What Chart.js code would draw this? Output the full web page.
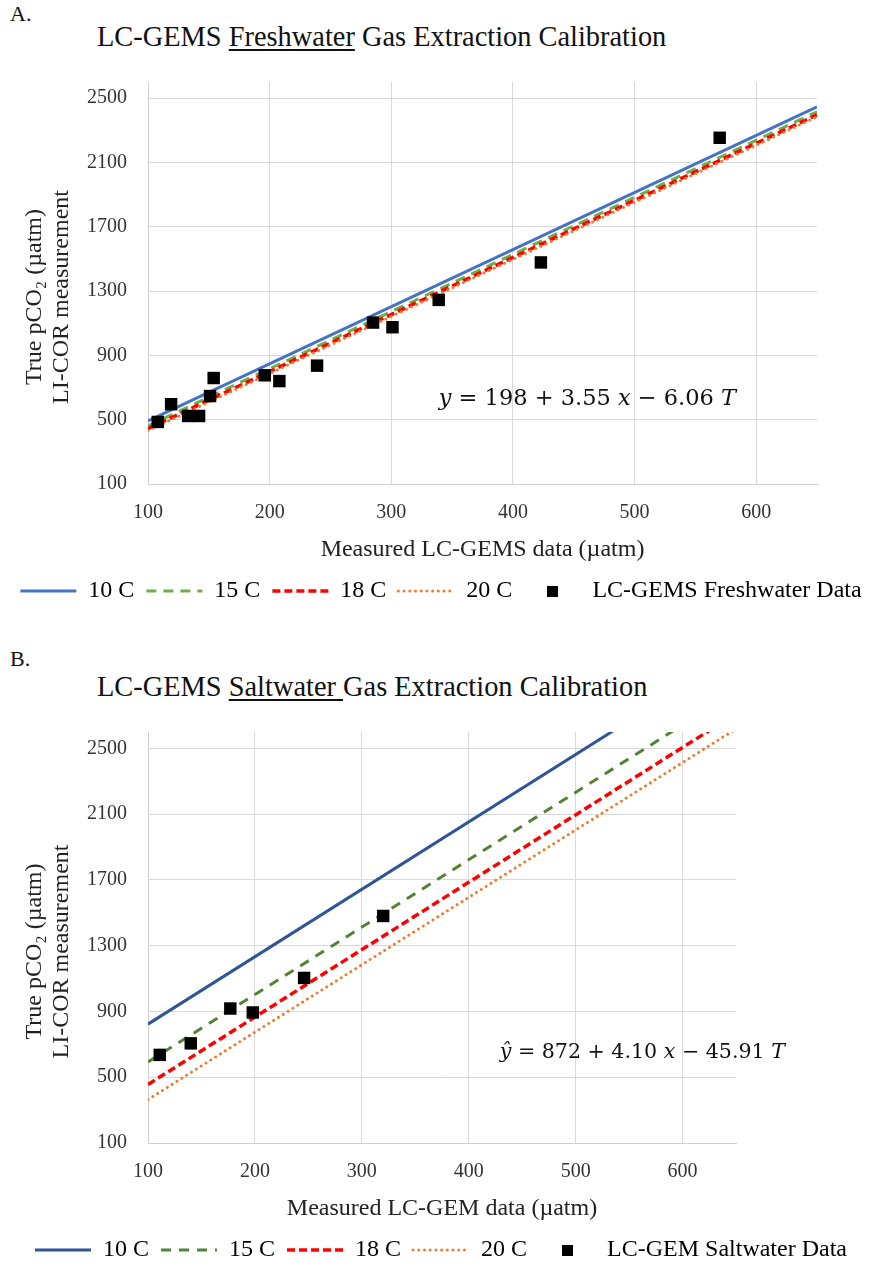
<!DOCTYPE html>
<html>
<head>
<meta charset="utf-8">
<script src="https://cdn.jsdelivr.net/npm/chart.js@4.4.1/dist/chart.umd.min.js"></script>
<style>
  html, body { margin: 0; padding: 0; background: #fff; }
  body { width: 882px; height: 1266px; overflow: hidden; position: relative;
         font-family: "Liberation Serif", "Times New Roman", serif; color: #111; }
  .lbl { position: absolute; line-height: 1; white-space: nowrap; }
  .panel { left: 10px; font-size: 22px; }
  .ttl { left: 97px; font-size: 28.4px; }
  .ttl u { text-decoration-thickness: 1.5px; text-underline-offset: 3px; }
  .box { position: absolute; left: 0; width: 882px; }
</style>
</head>
<body>
<div class="lbl panel" style="top:3px">A.</div>
<div class="lbl ttl" style="top:23px">LC-GEMS <u>Freshwater</u> Gas Extraction Calibration</div>
<div class="box" style="top:49px;height:564px"><canvas id="freshChart"></canvas></div>

<div class="lbl panel" style="top:648px">B.</div>
<div class="lbl ttl" style="top:673px">LC-GEMS <u>Saltwater </u>Gas Extraction Calibration</div>
<div class="box" style="top:699px;height:573px"><canvas id="saltChart"></canvas></div>

<script>
// axis ticks
const xTicks = [100, 200, 300, 400, 500, 600];
const yTicks = [100, 500, 900, 1300, 1700, 2100, 2500];

// fitted lines, value at each end of the x range
const lineX = [100, 650];
const fresh10 = [492, 2445];
const fresh15 = [462, 2415];
const fresh18 = [444, 2396];
const fresh20 = [432, 2384];
const salt10 = [823, 3078];
const salt15 = [593, 2848];
const salt18 = [456, 2711];
const salt20 = [364, 2619];

// measured points
const freshX = [108, 119, 133, 142, 151, 154, 196, 208, 239, 285, 301, 339, 423, 570];
const freshY = [486, 596, 523, 523, 647, 759, 776, 740, 836, 1104, 1075, 1245, 1478, 2253];
const saltX = [111, 140, 177, 198, 246, 320];
const saltY = [636, 706, 918, 894, 1104, 1481];

const serif = '"Liberation Serif", "Times New Roman", serif';
Chart.defaults.font.family = serif;

// small black square for the legend
const square = document.createElement("canvas");
square.width = 11;
square.height = 11;
const sctx = square.getContext("2d");
sctx.fillStyle = "#000";
sctx.fillRect(0, 0, 11, 11);

const yTitle = {
  id: "yTitle",
  afterDraw(chart, args, opts) {
    const { ctx, chartArea } = chart;
    const cy = (chartArea.top + chartArea.bottom) / 2 + opts.shift;
    ctx.save();
    ctx.fillStyle = "#222";
    ctx.font = "24px " + serif;
    ctx.textAlign = "center";
    ctx.textBaseline = "middle";
    opts.lines.forEach((t, i) => {
      ctx.save();
      ctx.translate(opts.x[i], cy);
      ctx.rotate(-Math.PI / 2);
      ctx.fillText(t, 0, 0);
      ctx.restore();
    });
    ctx.restore();
  },
};

const equation = {
  id: "equation",
  afterDatasetsDraw(chart, args, opts) {
    const { ctx, scales } = chart;
    let px = scales.x.getPixelForValue(opts.at[0]);
    const py = scales.y.getPixelForValue(opts.at[1]);
    ctx.save();
    ctx.fillStyle = "#111";
    ctx.textBaseline = "alphabetic";
    opts.parts.forEach(([t, it]) => {
      ctx.font = (it ? "italic " : "") + opts.size + 'px "DejaVu Serif"';
      ctx.fillText(t, px, py);
      px += ctx.measureText(t).width;
    });
    ctx.restore();
  },
};

function lineSet(label, ys, color, width, dash, cap, order) {
  return {
    label: label,
    data: lineX.map((x, i) => ({ x: x, y: ys[i] })),
    showLine: true,
    borderColor: color,
    backgroundColor: color,
    borderWidth: width,
    borderDash: dash,
    borderCapStyle: cap,
    pointRadius: 0,
    pointHoverRadius: 0,
    order: order,
    legendStyle: "line",
  };
}

function pointSet(label, xs, ys) {
  return {
    label: label,
    data: xs.map((x, i) => ({ x: x, y: ys[i] })),
    pointStyle: "rect",
    pointRadius: 8.8,
    pointHoverRadius: 8.8,
    backgroundColor: "#000",
    borderColor: "#000",
    borderWidth: 0,
    order: 1,
    legendStyle: square,
  };
}

function legendLabels(chart) {
  return chart.data.datasets.map((ds, i) => ({
    text: ds.label,
    fillStyle: ds.backgroundColor,
    strokeStyle: ds.borderColor,
    lineWidth: ds.borderWidth,
    lineDash: ds.borderDash || [],
    lineCap: ds.borderCapStyle || "butt",
    pointStyle: ds.legendStyle,
    datasetIndex: i,
    hidden: false,
  }));
}

function makeChart(id, datasets, xTitle, rightPad, eq) {
  new Chart(document.getElementById(id), {
    type: "scatter",
    data: { datasets: datasets },
    plugins: [yTitle, equation],
    options: {
      responsive: true,
      maintainAspectRatio: false,
      animation: false,
      layout: { padding: 0 },
      plugins: {
        legend: {
          position: "bottom",
          labels: {
            usePointStyle: true,
            pointStyleWidth: 56,
            padding: 12,
            color: "#111",
            font: { size: 24 },
            generateLabels: legendLabels,
          },
        },
        tooltip: { enabled: false },
        yTitle: { lines: ["True pCO₂ (µatm)", "LI-COR measurement"], x: [35, 62], shift: 14 },
        equation: eq,
      },
      scales: {
        x: {
          type: "linear",
          min: 100,
          max: 650,
          afterBuildTicks: (s) => { s.ticks = xTicks.map((v) => ({ value: v })); },
          afterFit: (s) => { s.height = 83; },
          grid: { color: "#d9d9d9", drawTicks: false },
          border: { color: "#d0d0d0" },
          ticks: { padding: 17, color: "#333", font: { size: 20 }, callback: (v) => String(v) },
          title: {
            display: true,
            text: xTitle,
            color: "#222",
            font: { size: 24, lineHeight: 1 },
            padding: { top: 0, bottom: 5 },
          },
        },
        y: {
          type: "linear",
          min: 100,
          max: 2600,
          afterBuildTicks: (s) => { s.ticks = yTicks.map((v) => ({ value: v })); },
          afterFit: (s) => { s.width = 148; },
          grid: { color: "#d9d9d9", drawTicks: false },
          border: { color: "#d0d0d0" },
          ticks: { padding: 21, color: "#333", font: { size: 20 }, callback: (v) => String(v) },
        },
        pad: {
          type: "linear",
          position: "right",
          afterFit: (s) => { s.width = rightPad; },
          grid: { display: false },
          border: { display: false },
          ticks: { display: false },
        },
      },
    },
  });
}

makeChart(
  "freshChart",
  [
    lineSet("10 C", fresh10, "#4472C4", 3, [], "butt", 5),
    lineSet("15 C", fresh15, "#70AD47", 3, [10, 7], "butt", 4),
    lineSet("18 C", fresh18, "#FF0000", 3.5, [8, 4], "butt", 3),
    lineSet("20 C", fresh20, "#ED7D31", 3, [0.01, 5.7], "round", 2),
    pointSet("LC-GEMS Freshwater Data", freshX, freshY),
  ],
  "Measured LC-GEMS data (µatm)",
  65,
  {
    at: [339, 590],
    size: 22.5,
    parts: [["y", true], [" = 198 + 3.55 ", false], ["x", true], [" − 6.06 ", false], ["T", true]],
  }
);

makeChart(
  "saltChart",
  [
    lineSet("10 C", salt10, "#2F5597", 3, [], "butt", 5),
    lineSet("15 C", salt15, "#548235", 3, [10, 8], "butt", 4),
    lineSet("18 C", salt18, "#FF0000", 3.5, [8, 4], "butt", 3),
    lineSet("20 C", salt20, "#ED7D31", 3, [0.01, 5.7], "round", 2),
    pointSet("LC-GEM Saltwater Data", saltX, saltY),
  ],
  "Measured LC-GEM data (µatm)",
  146,
  {
    at: [429, 616],
    size: 20.6,
    parts: [["ŷ", true], [" = 872 + 4.10 ", false], ["x", true], [" − 45.91 ", false], ["T", true]],
  }
);
</script>
</body>
</html>
